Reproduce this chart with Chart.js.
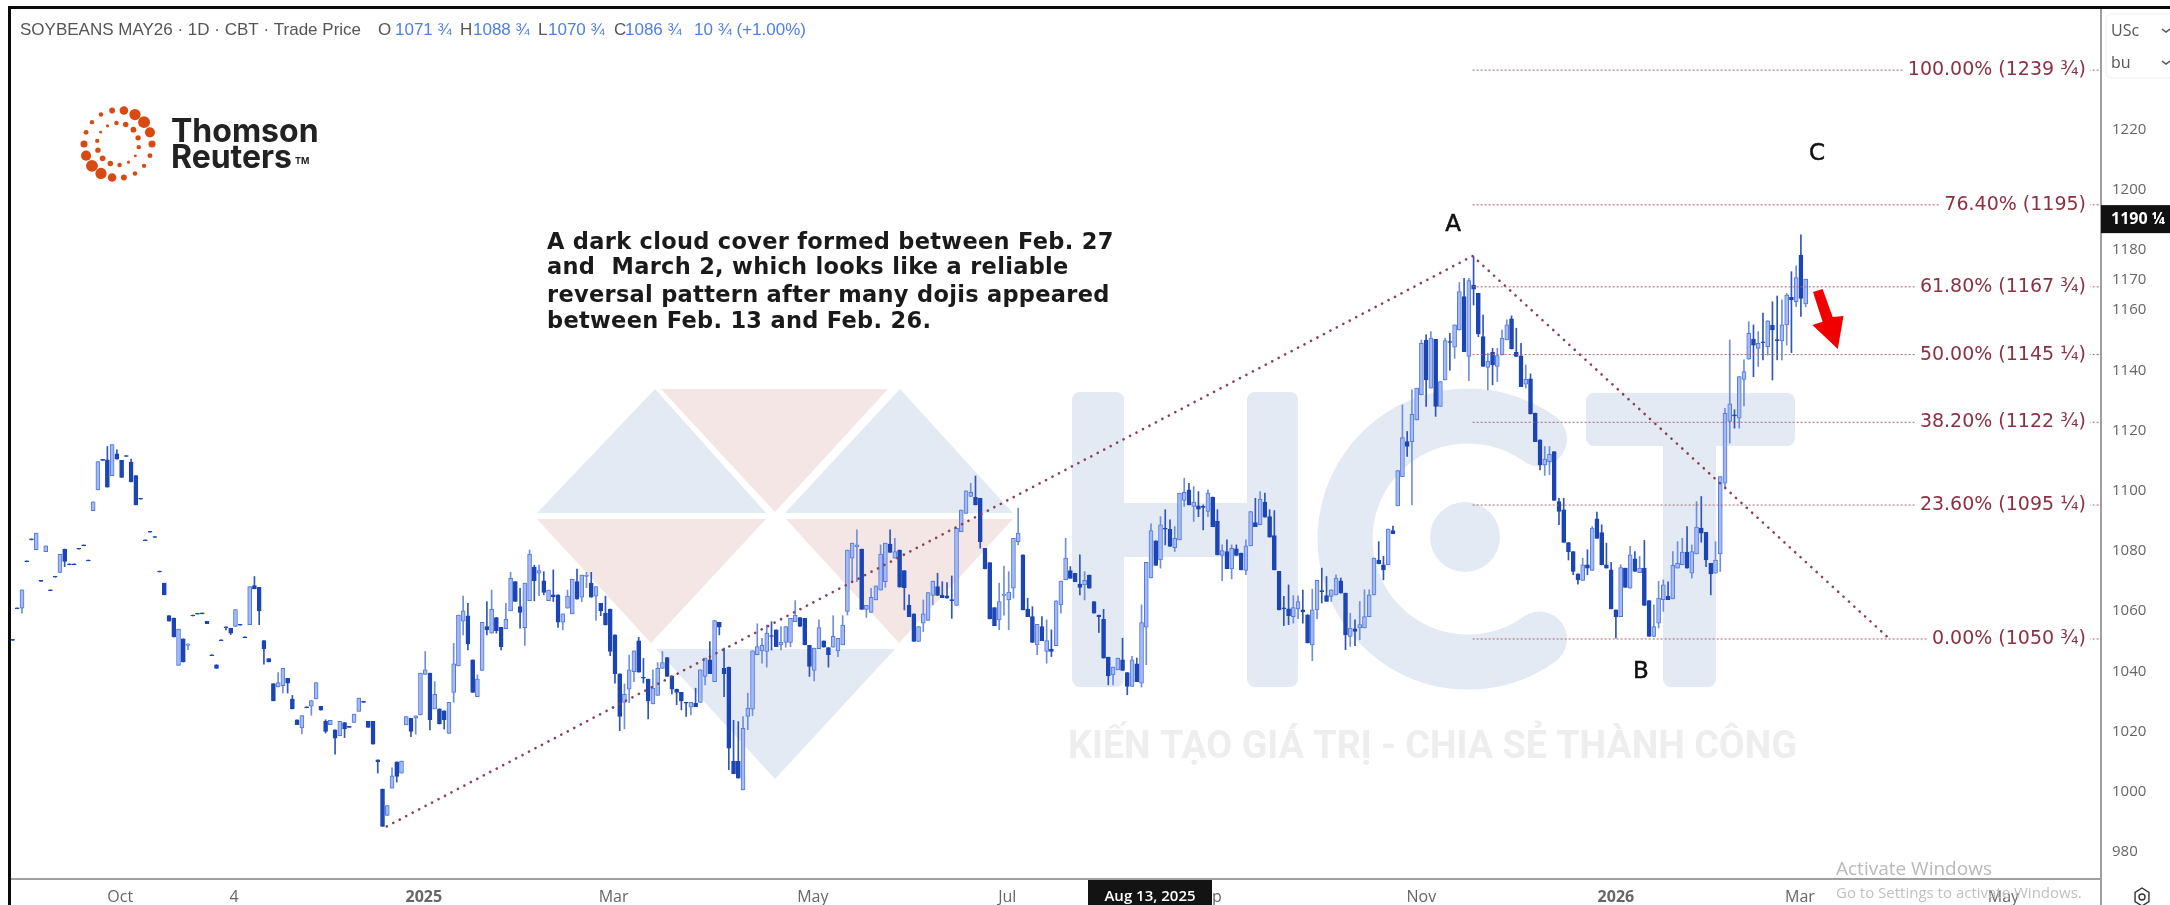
<!DOCTYPE html>
<html>
<head>
<meta charset="utf-8">
<title>Soybeans May26</title>
<script src="https://cdn.jsdelivr.net/npm/chart.js@4/dist/chart.umd.min.js"></script>
<style>html,body{margin:0;padding:0;background:#fff;overflow:hidden}canvas{display:block}</style>
</head>
<body>
<canvas id="c" width="2170" height="905"></canvas>
<script>
const opens=[
1050.6,1061.1,1061,1076.7,1084,1080.4,1070.2,1079.8,1067.1,1071.6,
1072.9,1080.6,1075.7,1075.7,1080.9,1082,1077,1093.4,1100.3,1110.4,
1110.3,1105,1112.3,1110.1,1111.7,1109.5,1105,1097.5,1083.7,1086.5,
1084.8,1073.3,1069.3,1058.5,1057.7,1042,1050.8,1048.6,1058.7,1059.3,
1059.4,1056.6,1045.5,1042.2,1050.5,1054.8,1054.3,1054.9,1055.6,1051.5,
1055.5,1068.5,1067.9,1050.2,1044.2,1035.9,1034.8,1035.2,1037.7,1030.8,
1023.9,1021.2,1028.2,1028.4,1030.8,1028.4,1023.4,1022.3,1020.6,1018.6,
1023,1021.7,1023,1026.7,1030,1023.4,1023.4,1010.6,1000.9,992.1,
1001.2,1009.9,1006.2,1022.2,1024.4,1024.4,1025.5,1039,1039.4,1027.5,
1027.5,1026.9,1019.4,1033,1041.8,1056.7,1058.4,1043.8,1031.6,1040.3,
1054.9,1052.7,1057.9,1054.6,1054.2,1060.1,1069.8,1061.5,1054.5,1063.5,
1074.6,1072.6,1070.1,1063.5,1065.4,1065.4,1056.3,1061,1059.1,1069.8,
1064.6,1071.5,1069.3,1065,1062.6,1059.3,1060.7,1052.1,1039.2,1029.7,
1034.1,1039.9,1050.1,1038,1037.4,1029.2,1032,1041,1044.6,1038.5,
1034.1,1033,1029.7,1028.1,1029.4,1029.7,1038.3,1043.8,1036.6,1056.3,
1041,1041.4,1010.1,1010.1,1000.6,1025,1027.4,1045.5,1046.8,1046.6,
1051.9,1053.8,1048.8,1049.6,1049.6,1056.5,1057.9,1057.6,1048.6,1040.3,
1047.5,1050.1,1047.9,1048,1046.8,1048.8,1059.9,1077.6,1081.4,1080.6,
1060.6,1059.6,1063.7,1067,1069.8,1082.3,1077.6,1080.3,1073.5,1061.9,
1059.1,1049.9,1056,1056.9,1065.2,1068.2,1065.3,1065.1,1063.8,1061.9,
1086.4,1092.5,1098.1,1097.8,1097.5,1080.9,1076.1,1061.2,1057.1,1065.2,
1063.7,1067.6,1083.1,1078.7,1060.7,1058.2,1048.8,1054.9,1046.6,1047.4,
1048.5,1062.1,1070.4,1073.5,1072.6,1069,1068.7,1072,1063.2,1058.7,
1057.3,1044.7,1038.8,1040.5,1043.8,1039.6,1035,1042.5,1036.1,1054.7,
1071,1083.4,1077,1087.5,1087.2,1081.1,1083.7,1096.8,1100.3,1094.8,
1095,1094.8,1093.1,1097.9,1089.8,1078.5,1079.8,1074,1080.7,1079.3,
1073.5,1081.7,1089.4,1088.7,1096.2,1091.4,1085.1,1073.2,1061.1,1060.8,
1058.2,1060.7,1060.4,1058.8,1048.8,1060.4,1066.8,1065.2,1064.9,1065.4,
1070.1,1066,1051.6,1054.1,1054.4,1054.4,1058.2,1065.4,1077,1075.4,
1075.4,1086.8,1095,1104.7,1116.3,1116.3,1123.5,1131.8,1150.1,1134.1,
1150.3,1128,1136.8,1149.6,1147.7,1153.4,1164.5,1144.6,1168.3,1165.6,
1151.2,1141,1146,1141.3,1145.1,1150.1,1157.1,1146,1144.8,1135.4,
1137.2,1125.8,1116.9,1108.6,1109.7,1113,1096.4,1093.7,1082.8,1079.8,
1072.4,1070.2,1075.4,1073.5,1090.7,1086.1,1075.4,1073.7,1060.4,1058.2,
1074.3,1067.6,1077.4,1072.8,1074.3,1063.5,1051.6,1056,1063.8,1064.9,
1064.1,1074.3,1075.4,1079.6,1072.6,1079,1087.6,1086.2,1075.9,1072.6,
1079,1102.5,1123,1125.2,1124.1,1137,1143.7,1150.4,1147.3,1149.5,
1147.9,1155,1150.2,1149.8,1155.1,1164.3,1162.8,1178.3,1162.1];
const closes=[
1050.3,1060.8,1067.1,1076.4,1083.7,1085.9,1069.9,1081.7,1066.8,1071.3,
1078.9,1076.5,1075.4,1075.4,1080.6,1081.7,1076.7,1096.3,1109.7,1110.1,
1101.2,1115.3,1110.5,1104.4,1111.4,1102.9,1095.3,1097.2,1083.4,1086.2,
1084.5,1073,1065.4,1056.7,1051.4,1054,1043.1,1049.1,1058.4,1059,
1059.1,1055.8,1045.2,1041,1050.2,1054.5,1052.7,1060.5,1055.3,1051.2,
1068.2,1067.4,1060.1,1047.5,1043.1,1030.2,1036.3,1041,1036.1,1027.5,
1022.3,1025.3,1027.9,1030.3,1036.3,1027.1,1020,1023.7,1017.8,1023.4,
1020.9,1021.4,1025.8,1031.1,1029.7,1021.4,1015.8,1009.9,988.5,995.4,
1005.3,1005.1,1010.2,1025,1020,1025.2,1039.4,1040.5,1023.9,1032.4,
1022.5,1023.9,1029.7,1042.5,1058.7,1060.1,1049.1,1033,1037.4,1056.3,
1053.8,1060.6,1053.5,1048.2,1057.3,1070.9,1063.2,1059.6,1069.3,1079,
1070.1,1073.5,1066.2,1067,1064.8,1056.3,1059.1,1065,1070.6,1064,
1072,1072,1064.6,1068.2,1060.1,1055.4,1046.6,1039.2,1025,1032.4,
1040.5,1046.8,1039.7,1037.7,1030.2,1034.4,1041,1042.9,1038.3,1034.1,
1033,1030.2,1029.4,1029.7,1028.3,1040.5,1044.4,1039.2,1056.9,1054.7,
1039.2,1014.5,1006,1004.5,1021.1,1027.8,1046.8,1048.2,1048.6,1052.7,
1051.6,1048.2,1049.6,1054.9,1057.6,1058.7,1054.9,1048.8,1041.6,1047.7,
1054.5,1048,1045.5,1051.6,1051,1055.4,1080.3,1082.6,1082,1060.6,
1061.9,1064.6,1068.4,1079,1082.6,1079.5,1079.8,1068,1067.8,1058.2,
1049.9,1054.9,1059.1,1066.2,1070,1065.2,1064.5,1064.3,1063.5,1087.5,
1093.6,1100,1099.5,1095.3,1083.1,1074,1057.4,1055.2,1063.2,1065.7,
1066.3,1084.2,1085.9,1060.4,1058.2,1049.6,1055.6,1050.2,1050.2,1046.6,
1063.4,1070,1077.6,1070.9,1069.8,1067.9,1070.2,1067.6,1059.3,1058.2,
1044.4,1038.5,1041.4,1044.4,1040.3,1035,1043.8,1036.6,1056.2,1076.2,
1086.8,1075.2,1088.7,1087.2,1081.5,1084.2,1099.2,1099.5,1095.3,1096.2,
1093.9,1094.5,1099.2,1088.1,1078.7,1080.1,1074.1,1080.9,1078.5,1073.7,
1081.7,1093.1,1088.1,1097.2,1091.2,1084.6,1073.7,1060.4,1060.8,1058.5,
1061.2,1063.2,1059.7,1049.4,1060.4,1070.2,1066.5,1063.2,1067.1,1071,
1066,1052.1,1054.4,1053.3,1055.5,1058.2,1065.4,1077.6,1075.7,1073.7,
1087.3,1085.7,1106.7,1117.7,1114.7,1125.4,1134.1,1149,1136.8,1150.7,
1128,1136.3,1149.9,1149.3,1155.1,1166.2,1146.2,1169.8,1167,1152.1,
1141.3,1143.1,1141.8,1144.9,1150.7,1155.1,1147.1,1144.6,1134.6,1137,
1125.5,1116.3,1108.6,1110.5,1112.1,1096.8,1093.1,1082.8,1079.8,1073.2,
1070.4,1075.4,1074.3,1087.6,1084.2,1075.4,1074.3,1060.7,1058.2,1074.5,
1067.9,1078.7,1073.2,1074.3,1061.9,1051.6,1054.9,1064.3,1068.7,1063.8,
1075.2,1075.9,1079.6,1074.3,1079.8,1087.9,1085.9,1077,1072.4,1077,
1104.7,1125.7,1128.9,1124.9,1137.9,1139.6,1152.3,1148.4,1149,1149.2,
1156.5,1153.4,1149.9,1155.1,1165,1163.4,1170.8,1163.9,1170.3];
const highs=[
1050.6,1061.1,1067.1,1076.7,1084,1085.9,1070.2,1081.7,1067.1,1071.6,
1078.9,1080.6,1075.7,1075.7,1080.9,1082,1077,1096.3,1109.7,1110.4,
1114.7,1115.3,1113.6,1110.1,1111.7,1110.5,1105,1097.5,1083.7,1086.5,
1084.8,1073.3,1069.3,1058.5,1057.7,1054,1050.8,1049.1,1058.7,1059.3,
1059.4,1056.6,1045.5,1042.2,1050.5,1054.8,1054.3,1060.5,1055.6,1051.5,
1068.2,1071.5,1067.9,1050.2,1044.2,1035.9,1039.6,1041,1037.7,1032,
1023.9,1025.3,1028.2,1030.3,1036.3,1028.4,1023.9,1023.7,1020.6,1023.4,
1023,1021.7,1025.8,1031.1,1030,1023.4,1023.4,1010.6,1000.9,995.4,
1007.9,1009.9,1010.2,1025,1024.4,1025.2,1039.4,1046.6,1039.4,1036.6,
1027.5,1026.9,1029.7,1049.3,1058.7,1065,1062.6,1043.8,1038.8,1056.3,
1063.2,1067,1057.9,1054.6,1062.6,1072.9,1069.8,1067.6,1069.3,1080.3,
1075.3,1075.3,1073.1,1067,1073.7,1065.4,1059.1,1067,1070.6,1074,
1072,1072.9,1072.9,1068.2,1062.6,1065,1060.7,1052.1,1039.2,1035.8,
1045.4,1046.8,1051.3,1044.3,1037.4,1040.5,1042.9,1046.6,1044.6,1038.5,
1034.1,1033,1029.7,1029.7,1034.4,1040.5,1044.4,1049.9,1056.9,1056.3,
1047.7,1041.4,1023.7,1023.3,1025,1032.7,1046.8,1055.8,1051,1055.4,
1056.5,1053.8,1054.9,1054.9,1057.6,1063.5,1057.9,1057.6,1048.6,1047.7,
1057.1,1050.1,1047.9,1058.5,1051,1058.5,1080.3,1082.6,1087,1080.6,
1061.9,1067.6,1068.4,1082,1082.6,1087,1084.2,1080.3,1073.5,1065.4,
1059.1,1054.9,1063.7,1066.2,1070,1072.6,1069.8,1069.5,1071.7,1087.5,
1093.6,1100,1102.5,1104.9,1097.5,1080.9,1076.1,1061.2,1069.3,1075,
1073.1,1084.2,1094.2,1078.7,1064.3,1061.5,1055.6,1058.2,1057.1,1053.8,
1063.4,1070,1084.2,1074.8,1072.6,1078.7,1073.1,1072,1063.2,1058.7,
1060.6,1044.7,1041.4,1044.4,1051,1039.6,1045,1044.4,1062.1,1076.2,
1089,1083.4,1091.4,1093.7,1090.3,1088.1,1099.2,1104.2,1102.5,1101.4,
1099.7,1095.3,1100.3,1097.9,1093.7,1082,1083.7,1082,1082,1079.3,
1083.7,1093.1,1097.5,1099.7,1099.2,1093.7,1093.4,1073.2,1064.9,1068.7,
1065.2,1065.1,1067,1058.8,1067.3,1070.2,1074.3,1071.5,1067.1,1072.1,
1071,1066,1059.3,1057.1,1063.2,1067.1,1067.1,1077.6,1083.1,1078.2,
1087.3,1088.3,1106.7,1128.5,1119.7,1133.5,1134.1,1150.1,1151.8,1152.9,
1150.3,1136.3,1150.7,1152.3,1155.1,1169.2,1170.6,1170.6,1177.8,1165.6,
1158.4,1145.7,1147.3,1147.3,1153.4,1156.8,1158.1,1154,1149,1141.8,
1138.8,1125.8,1116.9,1114.7,1114.7,1113,1097.5,1097.5,1082.8,1079.8,
1072.4,1077.6,1080.4,1088.1,1092.9,1088.7,1082.6,1076.2,1060.4,1075.4,
1074.3,1081.5,1079.8,1078.2,1083.5,1063.5,1062.1,1069.9,1070.4,1069.7,
1079.8,1083.1,1084.2,1088.1,1082,1096.4,1098.1,1086.2,1075.9,1083.1,
1104.7,1127.4,1150.1,1126.9,1137.9,1143.5,1156.2,1155.1,1152.9,1159,
1156.5,1162.8,1164.7,1163.4,1165.6,1172.8,1174.7,1185,1170.3];
const lows=[
1050.3,1060.8,1059.3,1076.4,1083.7,1080.4,1069.9,1079.8,1066.8,1071.3,
1072.9,1074.8,1075.4,1075.4,1080.6,1081.7,1076.7,1093.4,1100.3,1110.1,
1101.2,1105,1110.5,1104.4,1111.4,1102.9,1095.3,1097.2,1083.4,1086.2,
1084.5,1073,1065.4,1056.7,1051.4,1042,1043.1,1047.2,1058.4,1059,
1059.1,1055.8,1045.2,1041,1050.2,1053.8,1052.2,1054.9,1055.3,1051.2,
1055.5,1067.4,1055.5,1042.4,1043.1,1030.2,1034.8,1032.8,1032.8,1027.5,
1022.3,1019.2,1027.9,1025.4,1030.8,1027.1,1019.5,1022.3,1012.5,1018.6,
1018,1021.4,1023,1026.7,1029.7,1021.4,1015.8,1006.2,988.5,992.1,
1001.2,1003.2,1006.2,1022.2,1018.3,1019.1,1025.5,1039,1020.5,1027.5,
1022.5,1020.8,1019.4,1029.7,1041.8,1052.1,1047.1,1033,1031.6,1040.3,
1052.1,1052.7,1052.7,1047.1,1054.2,1060.1,1063.2,1054.3,1048.6,1063.5,
1063.4,1065.1,1065.4,1063.5,1063.2,1054.6,1053.8,1061,1059.1,1064,
1063.2,1067.8,1064.6,1056.9,1058.5,1055.4,1045.2,1036.1,1020.3,1020.9,
1029.6,1036.6,1039.7,1036.1,1024.2,1029.2,1032,1041,1038.3,1032.5,
1028.9,1027.2,1025,1025.5,1028.3,1029.7,1035.5,1039.2,1036.6,1052.1,
1031.6,1007.3,1006,1004.5,1000.6,1020.6,1025.3,1045.5,1042.7,1041.4,
1047.1,1048.2,1047.1,1048,1048.2,1056.5,1054.9,1048.8,1038.3,1036.8,
1047.5,1048,1041.4,1048,1044.9,1048.8,1058.7,1069.8,1069.8,1060.6,
1057.9,1059.6,1063.7,1067,1067.9,1079.5,1077.6,1068,1060.4,1058.2,
1049.9,1049.9,1053.2,1056.9,1062.1,1065.2,1064.5,1064.3,1057.6,1061.9,
1086.4,1092.5,1098.1,1095.3,1080.9,1074,1057.4,1055.2,1053.8,1058.7,
1053.8,1064.3,1082,1060.4,1058.2,1049.6,1045.5,1050.2,1042.7,1044.9,
1048.5,1059.3,1070.4,1070.9,1069.8,1065.4,1063.7,1067.6,1059.3,1052.9,
1044.4,1035.5,1035.5,1040.5,1040.3,1032.2,1035,1036.6,1034.8,1042.2,
1071,1075.2,1074.3,1082,1081.5,1079.8,1083.7,1094.8,1095.3,1089.8,
1091.4,1087,1091.4,1088.1,1078.7,1070.1,1074.1,1070.7,1078.5,1073.7,
1072.1,1081.7,1088.1,1088.7,1091.2,1084.6,1073.7,1060.4,1055.2,1055.5,
1056,1057.5,1056,1049.4,1043.5,1057.5,1062.7,1063.2,1063.2,1065.4,
1066,1047.2,1048.3,1048.5,1050.5,1054.4,1058.2,1065.4,1075.7,1070.4,
1075.4,1085.7,1095,1104.7,1111.4,1095.3,1123.5,1131.8,1128,1134.1,
1124.7,1128,1136.8,1140.1,1144,1153.4,1146.2,1136.6,1161.7,1151.2,
1141.3,1133.5,1135.2,1136.3,1145.1,1150.1,1147.1,1144.6,1134.6,1134.1,
1125.5,1116.3,1106.9,1105.1,1105.3,1096.8,1088.7,1082.8,1077,1072.1,
1069,1070.2,1072.1,1073.5,1084.2,1075.4,1074.3,1060.7,1051,1058.2,
1067.9,1067.6,1073.2,1072.8,1061.9,1051.6,1051.6,1054.4,1059.9,1063.8,
1064.1,1074.3,1075.4,1074.3,1071,1079,1082.9,1074.8,1065.4,1072.6,
1073.2,1100.8,1115.8,1120.8,1120.8,1128.2,1143.7,1137.9,1141.3,1143.5,
1145.1,1136.8,1143.5,1143.5,1148.4,1145.9,1161.2,1157.9,1161.1];

const yTickValues=[980,1000,1020,1040,1060,1080,1100,1120,1140,1160,1170,1180,1200,1220];
const xTickIndex=[22.7,46.7,86.7,126.7,168.7,209.7,252,297,338,376.8,419.7];
const xTickLabels=['Oct','4','2025','Mar','May','Jul','Sep','Nov','2026','Mar','May'];
const fibLevels=[1239.75,1195,1167.75,1145.25,1122.75,1095.25,1050.75];
const fibLabels=['100.00% (1239 ¾)','76.40% (1195)','61.80% (1167 ¾)','50.00% (1145 ¼)','38.20% (1122 ¾)','23.60% (1095 ¼)','0.00% (1050 ¾)'];
const trendIndex=[78.9,307.8,395.7];
const trendPrice=[988.5,1178,1050.75];
const fibStartIndex=307.8;
const lastPrice=1190.25;
const lastPriceLabel='1190 ¼';
const noteLines=['A dark cloud cover formed between Feb. 27','and  March 2, which looks like a reliable','reversal pattern after many dojis appeared','between Feb. 13 and Feb. 26.'];
const waveLabels=[['A',1453,233],['B',1641,680],['C',1817,162]];

const UP_FILL='#a5baf4',UP_EDGE='#5279e0',DOWN='#1b45b5',UP_WICK='#6f8fdd',DOWN_WICK='#2f55b5';
const isUp=i=>closes[i]>=opens[i];
const FIB='#8d3040';

const bgPlugin={id:'bg',beforeDatasetsDraw(ch){
  const c=ch.ctx;c.save();
  const tri=(col,p)=>{c.fillStyle=col;c.beginPath();c.moveTo(p[0],p[1]);c.lineTo(p[2],p[3]);c.lineTo(p[4],p[5]);c.closePath();c.fill();};
  const B='#e3eaf3',P='#f3e6e5';
  tri(B,[537,513,655,389,766,513]);
  tri(P,[661,389,888,389,775,512]);
  tri(B,[785,513,900,389,1013,513]);
  tri(P,[537,519,766,519,651,643]);
  tri(P,[786,519,1013,519,899,643]);
  tri(B,[656,649,895,649,775,779]);
  c.fillStyle=B;
  const rr=(x,y,w,h,r)=>{c.beginPath();c.roundRect(x,y,w,h,r);c.fill();};
  rr(1072,392,52,295,8);rr(1247,392,51,295,8);rr(1100,503,170,54,0);
  rr(1586,393,209,53,8);rr(1663,420,53,267,8);
  c.beginPath();c.arc(1465,537,35,0,Math.PI*2);c.fill();
  c.strokeStyle=B;c.lineWidth=55;c.lineCap='round';
  c.beginPath();c.arc(1468,539,123,-0.95,0.95,true);c.stroke();
  c.font='bold 38px Roboto';c.fillStyle='#eeeeee';c.textAlign='left';c.textBaseline='middle';
  c.fillText('KIẾN TẠO GIÁ TRỊ - CHIA SẺ THÀNH CÔNG',1068,748,729);
  c.restore();
}};

const overlay={id:'overlay',afterDraw(ch){
  const c=ch.ctx,y=ch.scales.y;c.save();
  // fib labels
  c.textBaseline='middle';c.textAlign='right';c.font='19px "DejaVu Sans"';
  fibLevels.forEach((v,i)=>{
    const py=y.getPixelForValue(v),t=fibLabels[i],w=c.measureText(t).width;
    c.fillStyle='#fff';c.fillRect(2086-w-5,py-11,w+9,22);
    c.fillStyle=FIB;c.fillText(t,2086,py);
  });
  // note + wave labels
  c.textAlign='left';c.font='bold 22.5px "DejaVu Sans"';c.fillStyle='#1a1a1a';
  c.letterSpacing='0.3px';
  const ny=[243,268,296,322];
  noteLines.forEach((t,i)=>c.fillText(t,547,ny[i]));
  c.letterSpacing='0px';
  c.font='23px "DejaVu Sans"';c.fillStyle='#111';c.textAlign='center';c.strokeStyle='#111';c.lineWidth=0.5;
  waveLabels.forEach(l=>{c.fillText(l[0],l[1],l[2]-8);c.strokeText(l[0],l[1],l[2]-8);});
  // red arrow
  c.fillStyle='#f00000';c.beginPath();
  [[1813,292],[1822.6,289],[1832.7,317],[1843.5,316],[1837.8,349],[1812.4,325],[1822.6,321.7]].forEach((p,i)=>i?c.lineTo(p[0],p[1]):c.moveTo(p[0],p[1]));
  c.closePath();c.fill();
  // header
  c.textAlign='left';c.font='17px "Liberation Sans"';
  [['SOYBEANS MAY26 · 1D · CBT · Trade Price',20,'#555'],['O',378,'#555'],['1071 ¾',395,'#4f7fe6'],['H',460,'#555'],['1088 ¾',473,'#4f7fe6'],['L',538,'#555'],['1070 ¾',548,'#4f7fe6'],['C',614,'#555'],['1086 ¾',625,'#4f7fe6'],['10 ¾ (+1.00%)',694,'#4f7fe6']]
   .forEach(s=>{c.fillStyle=s[2];c.fillText(s[0],s[1],30);});
  // logo
  const lx=118,ly=144,OR='#d94a12';
  c.fillStyle=OR;
  for(let i=0;i<18;i++){const a=i/18*Math.PI*2;const d=Math.abs(Math.cos(a+Math.PI/4));const r=2.2+3.8*d*d*d;
    c.beginPath();c.arc(lx+34*Math.cos(a),ly+34*Math.sin(a),r,0,7);c.fill();}
  for(let i=0;i<14;i++){const a=i/14*Math.PI*2+0.15;const d=Math.abs(Math.cos(a+Math.PI/4));const r=1.1+1.8*d;
    c.beginPath();c.arc(lx+21*Math.cos(a),ly+21*Math.sin(a),r,0,7);c.fill();}
  c.fillStyle='#222';c.font='bold 32px Inter';
  c.fillText('Thomson',171,132,152);
  c.fillText('Reuters',171,158,122);
  c.font='bold 9px Inter';c.fillText('TM',295,161);
  // right axis extras
  const ax=2101;
  c.strokeStyle='#a0a0a0';c.lineWidth=2;c.beginPath();c.moveTo(ax,879);c.lineTo(ax,905);c.stroke();
  c.fillStyle='#111';const lp=y.getPixelForValue(lastPrice);c.fillRect(ax,lp-14,69,28);
  c.fillStyle='#fff';c.font='bold 16px "Open Sans"';c.fillText(lastPriceLabel,2111,lp);
  c.strokeStyle='#eeeeee';c.lineWidth=1;c.beginPath();c.roundRect(2106,14,70,64,6);c.stroke();
  c.fillStyle='#555';c.font='16px "Open Sans"';c.fillText('USc',2111,31);c.fillText('bu',2111,63);
  c.strokeStyle='#555';c.lineWidth=1.5;
  [30,62].forEach(v=>{c.beginPath();c.moveTo(2162,v-1);c.lineTo(2166,v+2);c.lineTo(2170,v-1);c.stroke();});
  // crosshair date tag
  c.fillStyle='#131313';c.fillRect(1088,880,124,25);
  c.fillStyle='#fff';c.font='600 15px "Open Sans"';c.textAlign='center';c.fillText('Aug 13, 2025',1150,897);
  // windows watermark
  c.textAlign='left';c.fillStyle='#b9b9b9';c.font='19px "Open Sans"';c.fillText('Activate Windows',1836,870,182);
  c.font='15px "Open Sans"';c.fillStyle='#c0c0c0';c.fillText('Go to Settings to activate Windows.',1836,894,272);
  // settings icon
  c.strokeStyle='#333';c.lineWidth=1.4;c.beginPath();
  for(let i=0;i<6;i++){const a=i*Math.PI/3;const px=2142+8*Math.sin(a),py=897+9*Math.cos(a);i?c.lineTo(px,py):c.moveTo(px,py);}
  c.closePath();c.stroke();c.beginPath();c.arc(2142,897,3,0,7);c.stroke();
  // black frame
  c.fillStyle='#0a0a0a';c.fillRect(0,6,2170,3);c.fillRect(8,6,3,899);
  c.fillStyle='#fff';c.fillRect(0,0,8,905);
  c.restore();
}};

const idx=opens.map((_,i)=>i);
const fibDatasets=fibLevels.map(v=>({type:'line',order:0,data:[{x:fibStartIndex,y:v},{x:441,y:v}],
  borderColor:'#a4646e',borderWidth:1,borderDash:[2,2],pointRadius:0,fill:false}));

new Chart(document.getElementById('c'),{
  type:'bar',
  data:{datasets:[
    {label:'wick',order:3,grouped:false,barThickness:1,data:idx.map(i=>({x:i,y:[lows[i],highs[i]]})),
      backgroundColor:idx.map(i=>isUp(i)?UP_WICK:DOWN_WICK),borderWidth:0},
    {label:'body',order:2,grouped:false,barThickness:4,data:idx.map(i=>({x:i,y:[opens[i],closes[i]]})),
      backgroundColor:idx.map(i=>isUp(i)?UP_FILL:DOWN),borderColor:idx.map(i=>isUp(i)?UP_EDGE:DOWN),borderWidth:1,borderSkipped:false},
    {type:'line',order:1,label:'trend',data:trendIndex.map((x,i)=>({x,y:trendPrice[i]})),
      borderColor:'#8a4050',borderWidth:2.6,borderDash:[0.1,7.2],borderCapStyle:'round',pointRadius:0,tension:0,fill:false},
    ...fibDatasets
  ]},
  options:{
    responsive:false,animation:false,devicePixelRatio:1,
    layout:{padding:{left:10,top:8,right:0,bottom:0}},
    plugins:{legend:{display:false},tooltip:{enabled:false}},
    scales:{
      x:{type:'linear',min:-0.527,max:440.26,offset:false,
        grid:{display:false,drawTicks:false},border:{color:'#a0a0a0',width:2},
        afterFit(s){s.height=26;s.paddingLeft=0;s.paddingRight=0;},
        afterBuildTicks(s){s.ticks=xTickIndex.map(v=>({value:v}));},
        ticks:{autoSkip:false,maxRotation:0,padding:9,color:c=>'#666',
          font:c=>({family:'"Open Sans"',size:16,weight:/^\d{4}$/.test(xTickLabels[xTickIndex.indexOf(c.tick&&c.tick.value)]||'')?'bold':'normal'}),
          callback:v=>xTickLabels[xTickIndex.indexOf(v)]}},
      y:{type:'linear',position:'right',min:971,max:1260.4,
        grid:{display:false,drawTicks:false},border:{color:'#a0a0a0',width:2},
        afterFit(s){s.width=69;s.paddingTop=0;s.paddingBottom=0;},
        afterBuildTicks(s){s.ticks=yTickValues.map(v=>({value:v}));},
        ticks:{autoSkip:false,padding:11,color:'#666',font:{family:'"Open Sans"',size:15},callback:v=>String(v)}}
    }
  },
  plugins:[bgPlugin,overlay]
});
</script>
</body>
</html>
